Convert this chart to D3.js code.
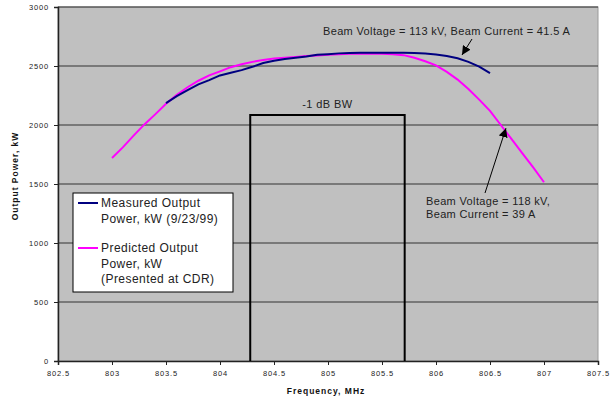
<!DOCTYPE html>
<html>
<head>
<meta charset="utf-8">
<script src="https://cdn.jsdelivr.net/npm/d3@7"></script>
<style>
  body { margin: 0; background: #fff; }
  svg { display: block; font-family: "Liberation Sans", Arial, sans-serif; }
</style>
</head>
<body>
<svg id="chart"></svg>
<script>
// measured curve, 9/23/99
const measuredFreq = [803.5, 803.6, 803.7, 803.8, 803.9, 804.0, 804.1, 804.2, 804.3, 804.4, 804.5,
  804.6, 804.7, 804.8, 804.9, 805.0, 805.1, 805.2, 805.3, 805.4, 805.5,
  805.6, 805.7, 805.8, 805.9, 806.0, 806.1, 806.2, 806.3, 806.4, 806.5];
const measuredPower = [2185, 2245, 2295, 2345, 2380, 2420, 2443, 2465, 2493, 2525, 2545,
  2560, 2570, 2580, 2595, 2600, 2607, 2610, 2613, 2613, 2612,
  2612, 2612, 2610, 2605, 2598, 2585, 2565, 2535, 2495, 2440];

// predicted curve (CDR)
const predictedFreq = [803.0, 803.1, 803.2, 803.3, 803.4, 803.5, 803.6, 803.7, 803.8, 803.9, 804.0,
  804.1, 804.2, 804.3, 804.4, 804.5, 804.6, 804.7, 804.8, 804.9, 805.0,
  805.1, 805.2, 805.3, 805.4, 805.5, 805.6, 805.7, 805.8, 805.9, 806.0,
  806.1, 806.2, 806.3, 806.4, 806.5, 806.6, 806.7, 806.8, 806.9, 807.0];
const predictedPower = [1720, 1810, 1910, 2005, 2090, 2180, 2255, 2320, 2375, 2420, 2455,
  2490, 2515, 2535, 2550, 2563, 2570, 2577, 2585, 2590, 2595,
  2600, 2603, 2605, 2603, 2603, 2600, 2592, 2570, 2540, 2505,
  2450, 2385, 2305, 2215, 2120, 2000, 1880, 1760, 1640, 1515];

// -1 dB bandwidth box
const bwFreq = [804.28, 805.71];
const bwTop = 2085;

const xTicks = [802.5, 803, 803.5, 804, 804.5, 805, 805.5, 806, 806.5, 807, 807.5];
const yTicks = [0, 500, 1000, 1500, 2000, 2500, 3000];

const W = 616, H = 402;
const margin = {top: 7, right: 18, bottom: 41, left: 58};
const width = W - margin.left - margin.right;
const height = H - margin.top - margin.bottom;

const svg = d3.select("#chart").attr("width", W).attr("height", H);
const g = svg.append("g").attr("transform", "translate(" + margin.left + "," + margin.top + ")");

const x = d3.scaleLinear().domain([802.5, 807.5]).range([0, width]);
const y = d3.scaleLinear().domain([0, 3000]).range([height, 0]);

// plot area
g.append("rect")
  .attr("width", width).attr("height", height)
  .attr("fill", "#c0c0c0")
  .attr("stroke", "#9a9a9a").attr("stroke-width", 1);

// horizontal grid
g.selectAll(".grid").data(yTicks.filter(d => d > 0)).enter()
  .append("line")
  .attr("x1", 0).attr("x2", width)
  .attr("y1", d => y(d)).attr("y2", d => y(d))
  .attr("stroke", "#333").attr("stroke-width", 1);

// axes
const xAxis = g.append("g")
  .attr("transform", "translate(0," + height + ")")
  .call(d3.axisBottom(x).tickValues(xTicks).tickSize(4).tickPadding(6).tickFormat(d => d));
const yAxis = g.append("g")
  .call(d3.axisLeft(y).tickValues(yTicks).tickSize(4).tickPadding(5).tickFormat(d => d));

[xAxis, yAxis].forEach(a => {
  a.select(".domain").attr("stroke", "#222").attr("stroke-width", 1.5);
  a.selectAll(".tick line").attr("stroke", "#222");
  a.selectAll("text")
    .attr("font-size", 7.5).attr("fill", "#222")
    .attr("letter-spacing", 0.8)
    .attr("font-family", "Liberation Sans, Arial, sans-serif");
});

// -1 dB BW box
g.append("path")
  .attr("d", "M" + x(bwFreq[0]) + "," + y(0) + "V" + y(bwTop) + "H" + x(bwFreq[1]) + "V" + y(0))
  .attr("fill", "none").attr("stroke", "#000").attr("stroke-width", 2);
g.append("text")
  .attr("x", x(bwFreq[0]) + 52).attr("y", y(bwTop) - 7)
  .attr("font-size", 11).attr("fill", "#222").attr("letter-spacing", 0.4)
  .text("-1 dB BW");

// curves
const line = d3.line().x(d => x(d[0])).y(d => y(d[1]));
g.append("path")
  .datum(predictedFreq.map((f, i) => [f, predictedPower[i]]))
  .attr("fill", "none").attr("stroke", "#ff00ff").attr("stroke-width", 2)
  .attr("d", line);
g.append("path")
  .datum(measuredFreq.map((f, i) => [f, measuredPower[i]]))
  .attr("fill", "none").attr("stroke", "#000080").attr("stroke-width", 2)
  .attr("d", line);

// arrow marker
svg.append("defs").append("marker")
  .attr("id", "arr").attr("viewBox", "0 0 10 10")
  .attr("refX", 10).attr("refY", 5)
  .attr("markerWidth", 9).attr("markerHeight", 9)
  .attr("markerUnits", "userSpaceOnUse")
  .attr("orient", "auto")
  .append("path").attr("d", "M0,0L10,5L0,10z").attr("fill", "#000");

// annotations
g.append("text")
  .attr("x", 265).attr("y", 28)
  .attr("font-size", 11).attr("fill", "#222").attr("letter-spacing", 0.35)
  .text("Beam Voltage = 113 kV, Beam Current = 41.5 A");
g.append("line")
  .attr("x1", 414).attr("y1", 32)
  .attr("x2", x(806.25) - 1).attr("y2", y(2551) - 5)
  .attr("stroke", "#000").attr("stroke-width", 1)
  .attr("marker-end", "url(#arr)");

const ann2 = g.append("text")
  .attr("font-size", 11).attr("fill", "#222").attr("letter-spacing", 0.35);
ann2.append("tspan").attr("x", 368).attr("y", 198).text("Beam Voltage = 118 kV,");
ann2.append("tspan").attr("x", 368).attr("y", 211).text("Beam Current = 39 A");
g.append("line")
  .attr("x1", 427).attr("y1", 186)
  .attr("x2", x(806.62) + 3).attr("y2", y(1990) + 2)
  .attr("stroke", "#000").attr("stroke-width", 1)
  .attr("marker-end", "url(#arr)");

// legend
const leg = g.append("g").attr("transform", "translate(15,186)");
leg.append("rect")
  .attr("width", 160).attr("height", 99)
  .attr("fill", "#fff").attr("stroke", "#000").attr("stroke-width", 1);
const legendItems = [
  {color: "#000080", y: 10, lines: ["Measured Output", "Power, kW (9/23/99)"]},
  {color: "#ff00ff", y: 55, lines: ["Predicted Output", "Power, kW", "(Presented at CDR)"]}
];
legendItems.forEach(item => {
  leg.append("line")
    .attr("x1", 5).attr("x2", 25)
    .attr("y1", item.y).attr("y2", item.y)
    .attr("stroke", item.color).attr("stroke-width", 2);
  const t = leg.append("text").attr("font-size", 12).attr("fill", "#222").attr("letter-spacing", 0.45);
  item.lines.forEach((s, i) => {
    t.append("tspan").attr("x", 28).attr("y", item.y + 4 + i * 15.5).text(s);
  });
});

// axis titles
svg.append("text")
  .attr("x", margin.left + width / 2 - 2).attr("y", 394)
  .attr("text-anchor", "middle")
  .attr("font-size", 8.5).attr("font-weight", "bold").attr("letter-spacing", 1)
  .attr("fill", "#111")
  .text("Frequency, MHz");
svg.append("text")
  .attr("transform", "translate(18,176) rotate(-90)")
  .attr("text-anchor", "middle")
  .attr("font-size", 8.5).attr("font-weight", "bold").attr("letter-spacing", 1)
  .attr("fill", "#111")
  .text("Output Power, kW");
</script>
</body>
</html>
